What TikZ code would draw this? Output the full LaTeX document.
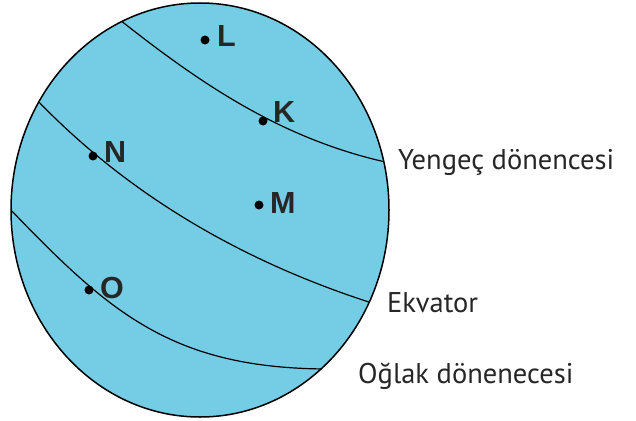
\documentclass[tikz,border=0pt]{standalone}
\usepackage{fontspec}
\setmainfont{PT Sans}
\newfontfamily\lblfont{Liberation Sans}
\definecolor{globe}{RGB}{116,205,228}
\begin{document}
\begin{tikzpicture}[x=1pt,y=-1pt,
  dotnode/.style={circle,fill=black,inner sep=0pt,minimum size=9pt},
  ptlabel/.style={anchor=base west,inner sep=0pt,font=\lblfont\bfseries\fontsize{30.5}{36}\selectfont,text=black!85},
  linelabel/.style={anchor=base west,inner sep=0pt,font=\fontsize{28.5}{34}\selectfont,text=black!85},
  lat/.style={line width=1.2pt}]
\useasboundingbox (0,0) rectangle (636,420);
\path[fill=globe] (200,210) ellipse [x radius=189, y radius=207];
\begin{scope}
\clip (200,210) ellipse [x radius=189, y radius=207];
\draw[lat] (120,20) .. controls (201,84) and (283,140) .. (390,163);
\draw[lat] (36,99) .. controls (130,197) and (246,263) .. (375,304);
\draw[lat] (8,207) .. controls (109,312) and (171,369) .. (330,369);
\end{scope}
\draw[line width=1.5pt] (200,210) ellipse [x radius=189, y radius=207];
% dots
\node[dotnode] (L) at (205,40) {};
\node[dotnode] (K) at (263,121) {};
\node[dotnode] (N) at (93,156) {};
\node[dotnode] (M) at (259,205) {};
\node[dotnode] (O) at (89,290) {};
\node[ptlabel] (Lt) at (217,46) {L};
\node[ptlabel] (Kt) at (273,122) {K};
\node[ptlabel] (Nt) at (104,162) {N};
\node[ptlabel] (Mt) at (270,213) {M};
\node[ptlabel] (Ot) at (100,298) {O};
% line labels
\node[linelabel] (yengec) at (398,169) {Yengeç dönencesi};
\node[linelabel] (ekvator) at (387,312) {Ekvator};
\node[linelabel] (oglak) at (358,383) {Oğlak dönenecesi};
\end{tikzpicture}
\end{document}
